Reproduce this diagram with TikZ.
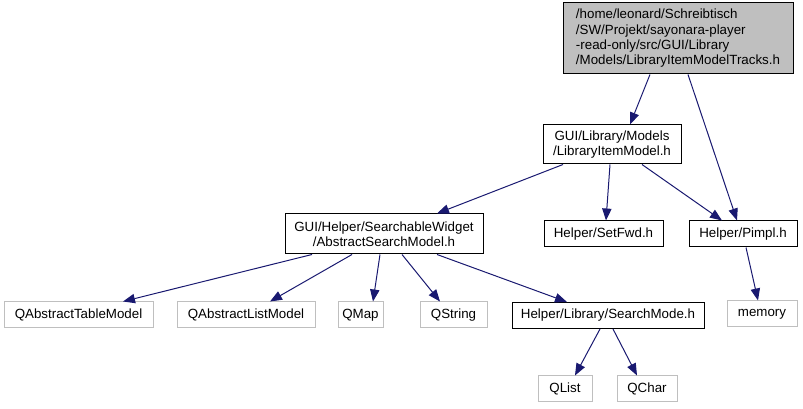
\documentclass[tikz,border=0pt]{standalone}
\usepackage{fontspec}
\setmainfont{Liberation Sans}
\usetikzlibrary{arrows.meta,calc}
\definecolor{edgeblue}{HTML}{191970}
\definecolor{extgray}{HTML}{BFBFBF}

\begin{document}
\begin{tikzpicture}[x=0.75pt,y=-0.75pt,
  every node/.style={font=\fontsize{10pt}{11.5pt}\selectfont},
  hdr/.style={draw=black,line width=0.75pt,inner sep=0pt,align=center,minimum height=19.5pt},
  ext/.style={draw=extgray,line width=0.75pt,inner sep=0pt,minimum height=19.5pt},
  inc/.style={-{Triangle[length=9pt,width=7pt]},line width=0.75pt,edgeblue}]
 \useasboundingbox (0,0) rectangle (803,409);
 % project headers
 \node[hdr,fill=extgray,align=left,minimum width=172.5pt,minimum height=53.25pt] (tracks) at (678,38.5)
   {/home/leonard/Schreibtisch\\/SW/Projekt/sayonara-player\\-read-only/src/GUI/Library\\/Models/LibraryItemModelTracks.h};
 \node[hdr,minimum width=103.5pt,minimum height=29.25pt] (lim) at (612,144.5) {GUI/Library/Models\\/LibraryItemModel.h};
 \node[hdr,minimum width=148.5pt,minimum height=30pt] (asm) at (384,234) {GUI/Helper/SearchableWidget\\/AbstractSearchModel.h};
 \node[hdr,minimum width=89.25pt] (setfwd) at (603.5,234) {Helper/SetFwd.h};
 \node[hdr,minimum width=81pt] (pimpl) at (743,234) {Helper/Pimpl.h};
 \node[hdr,minimum width=144pt] (smode) at (608,315.5) {Helper/Library/SearchMode.h};
 % external headers
 \node[ext,minimum width=111.75pt] (qatm) at (78.5,315) {QAbstractTableModel};
 \node[ext,minimum width=103.5pt] (qalm) at (246,315) {QAbstractListModel};
 \node[ext,minimum width=33.75pt] (qmap) at (360.5,315) {QMap};
 \node[ext,minimum width=50.25pt] (qstring) at (453.5,315) {QString};
 \node[ext,minimum width=52.5pt] (memory) at (762,314) {memory};
 \node[ext,minimum width=40.5pt] (qlist) at (565,389) {QList};
 \node[ext,minimum width=45pt] (qchar) at (647,389) {QChar};
 % include edges
 \draw[inc] ($(tracks.south)+(-28,0)$) -- ($(lim.north)+(18,0)$);
 \draw[inc] ($(tracks.south)+(10,0)$) -- ($(pimpl.north)+(-6,0)$);
 \draw[inc] ($(lim.south)+(-49,0)$) -- ($(asm.north)+(53,0)$);
 \draw[inc] ($(lim.south)+(-2,0)$) -- ($(setfwd.north)+(2.5,0)$);
 \draw[inc] ($(lim.south)+(30,0)$) -- ($(pimpl.north)+(-21,0)$);
 \draw[inc] ($(pimpl.south)+(3,0)$) -- ($(memory.north)+(-4,0)$);
 \draw[inc] ($(asm.south)+(-72,0)$) -- ($(qatm.north)+(44.5,0)$);
 \draw[inc] ($(asm.south)+(-32,0)$) -- ($(qalm.north)+(24,0)$);
 \draw[inc] ($(asm.south)+(-4,0)$) -- ($(qmap.north)+(12.5,0)$);
 \draw[inc] ($(asm.south)+(18,0)$) -- ($(qstring.north)+(-13.5,0)$);
 \draw[inc] ($(asm.south)+(53,0)$) -- ($(smode.north)+(-41,0)$);
 \draw[inc] ($(smode.south)+(-8,0)$) -- ($(qlist.north)+(10,0)$);
 \draw[inc] ($(smode.south)+(5,0)$) -- ($(qchar.north)+(-10,0)$);
\end{tikzpicture}
\end{document}
